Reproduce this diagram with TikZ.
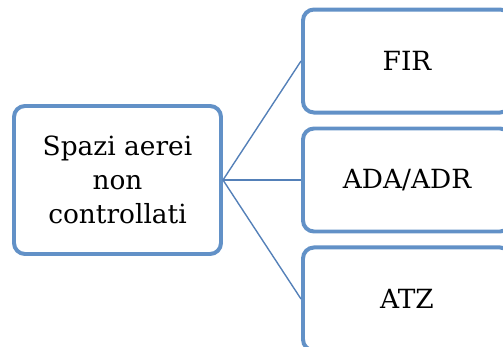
\documentclass[tikz,border=0pt]{standalone}
\usepackage{fontspec}
\setmainfont{DejaVu Serif}
\usepackage{tikz}
\usetikzlibrary{positioning}
\definecolor{boxblue}{RGB}{98,145,199}
\definecolor{linkblue}{RGB}{84,128,184}

\begin{document}
\begin{tikzpicture}[
  node distance=12bp,
  every node/.style={font=\fontsize{26.5}{34}\selectfont},
  root/.style={draw=boxblue, line width=4pt, rounded corners=11pt,
               fill=white, align=center, inner sep=0pt,
               minimum width=207bp, minimum height=148bp},
  leaf/.style={draw=boxblue, line width=4pt, rounded corners=11pt,
               fill=white, align=center, inner sep=0pt,
               minimum width=208bp, minimum height=103bp},
  link/.style={linkblue, line width=1.4pt}
]
\useasboundingbox (0,0) rectangle (503bp,347bp);
\clip (0,0) rectangle (503bp,347bp);
\node[root] (spazi) at (117.5bp,167bp) {Spazi aerei\\non\\controllati};
\node[leaf] (ada) at (407bp,167bp) {ADA/ADR};
\node[leaf, above=of ada] (fir) {FIR};
\node[leaf, below=of ada] (atz) {ATZ};
\draw[link] (spazi.east) -- (fir.west);
\draw[link] (spazi.east) -- (ada.west);
\draw[link] (spazi.east) -- (atz.west);
\end{tikzpicture}
\end{document}
